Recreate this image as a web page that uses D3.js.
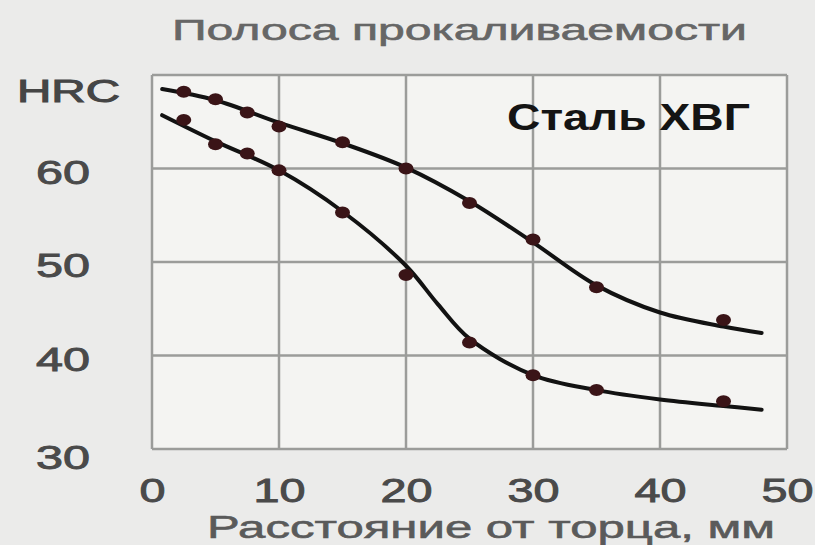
<!DOCTYPE html>
<html>
<head>
<meta charset="utf-8">
<script src="https://cdn.jsdelivr.net/npm/d3@7/dist/d3.min.js"></script>
<style>
  html, body { margin: 0; padding: 0; background: #ebebea; }
  svg { display: block; }
  text { font-family: "Liberation Sans", Arial, sans-serif; }
</style>
</head>
<body>
<svg id="chart" width="815" height="545"></svg>
<script>
// Measured points: distance from the quenched end (mm) and hardness (HRC)
const distances = [2.5, 5, 7.5, 10, 15, 20, 25, 30, 35, 45];
const hrcUpper  = [68.2, 67.4, 66.0, 64.5, 62.8, 60.0, 56.3, 52.4, 47.3, 43.8];
const hrcLower  = [65.2, 62.6, 61.6, 59.8, 55.3, 48.6, 41.4, 37.9, 36.3, 35.1];

// Smoothed band boundaries
const fitUpperX = [0.8, 5, 10, 15, 20, 25, 30, 35, 40, 45, 48];
const fitUpper  = [68.5, 67.3, 64.9, 62.7, 60.1, 56.5, 52.1, 47.5, 44.6, 43.1, 42.4];
const fitLowerX = [0.8, 5, 10, 15, 20, 22.5, 25, 30, 35, 40, 45, 48];
const fitLower  = [65.7, 62.9, 59.8, 55.4, 49.6, 45.5, 41.8, 37.9, 36.3, 35.3, 34.6, 34.2];

const xTicks = [0, 10, 20, 30, 40, 50];
const yTicks = [30, 40, 50, 60];
const yTopLabel = "HRC";

const title = "Полоса прокаливаемости";
const xTitle = "Расстояние от торца, мм";
const steelLabel = "Сталь ХВГ";

const svg = d3.select("#chart");
const x = d3.scaleLinear().domain([0, 50]).range([152, 787]);
const y = d3.scaleLinear().domain([30, 70]).range([449, 75]);

// plot background
svg.append("rect")
  .attr("x", x(0)).attr("y", y(70))
  .attr("width", x(50) - x(0)).attr("height", y(30) - y(70))
  .attr("fill", "#f4f4f2");

// grid and frame
const grid = svg.append("g").attr("stroke", "#9b9c9a").attr("stroke-width", 2.5);
grid.selectAll("line.v").data(d3.range(0, 51, 10)).join("line")
  .attr("x1", d => x(d)).attr("x2", d => x(d))
  .attr("y1", y(70)).attr("y2", y(30));
grid.selectAll("line.h").data(d3.range(30, 71, 10)).join("line")
  .attr("y1", d => y(d)).attr("y2", d => y(d))
  .attr("x1", x(0)).attr("x2", x(50));

// tick labels
const xAxis = svg.append("g")
  .attr("transform", `translate(0, ${y(30) + 28})`)
  .call(d3.axisBottom(x).tickValues(xTicks).tickSize(0).tickPadding(0));
xAxis.select(".domain").remove();
xAxis.selectAll("text")
  .attr("font-size", 33).attr("fill", "#4a4a4a")
  .attr("stroke", "#4a4a4a").attr("stroke-width", 0.9)
  .attr("dy", "0.75em")
  .attr("textLength", d => String(d).length * 26)
  .attr("lengthAdjust", "spacingAndGlyphs");

const yAxis = svg.append("g")
  .attr("transform", "translate(90, 0)")
  .call(d3.axisLeft(y).tickValues(yTicks).tickSize(0).tickPadding(0));
yAxis.select(".domain").remove();
yAxis.selectAll("text")
  .attr("font-size", 33).attr("fill", "#4a4a4a")
  .attr("stroke", "#4a4a4a").attr("stroke-width", 0.9)
  .attr("dy", d => d === 30 ? "0.6em" : "0.45em")
  .attr("textLength", d => String(d).length * 27)
  .attr("lengthAdjust", "spacingAndGlyphs");

svg.append("text")
  .attr("x", 17).attr("y", 102)
  .attr("font-size", 31).attr("fill", "#454545")
  .attr("stroke", "#454545").attr("stroke-width", 1)
  .attr("textLength", 103).attr("lengthAdjust", "spacingAndGlyphs")
  .text(yTopLabel);

// titles
svg.append("text")
  .attr("x", 172).attr("y", 40)
  .attr("font-size", 30).attr("fill", "#666")
  .attr("stroke", "#666").attr("stroke-width", 0.6)
  .attr("textLength", 575).attr("lengthAdjust", "spacingAndGlyphs")
  .text(title);

svg.append("text")
  .attr("x", 207).attr("y", 538)
  .attr("font-size", 32).attr("fill", "#5a5a5a")
  .attr("stroke", "#5a5a5a").attr("stroke-width", 0.6)
  .attr("textLength", 568).attr("lengthAdjust", "spacingAndGlyphs")
  .text(xTitle);

svg.append("text")
  .attr("x", 507).attr("y", 130)
  .attr("font-size", 36).attr("font-weight", "bold").attr("fill", "#141414")
  .attr("textLength", 243).attr("lengthAdjust", "spacingAndGlyphs")
  .text(steelLabel);

// band boundaries
const lineFor = xs => d3.line()
  .x((d, i) => x(xs[i]))
  .y(d => y(d))
  .curve(d3.curveCatmullRom.alpha(0.5));

[[fitUpperX, fitUpper], [fitLowerX, fitLower]].forEach(([xs, series]) => {
  svg.append("path")
    .attr("d", lineFor(xs)(series))
    .attr("fill", "none")
    .attr("stroke", "#121212")
    .attr("stroke-width", 4)
    .attr("stroke-linecap", "round");
});

// measured points
[hrcUpper, hrcLower].forEach(series => {
  svg.append("g").selectAll("ellipse").data(series).join("ellipse")
    .attr("cx", (d, i) => x(distances[i]))
    .attr("cy", d => y(d))
    .attr("rx", 7.5).attr("ry", 6)
    .attr("fill", "#3a1417");
});
</script>
</body>
</html>
